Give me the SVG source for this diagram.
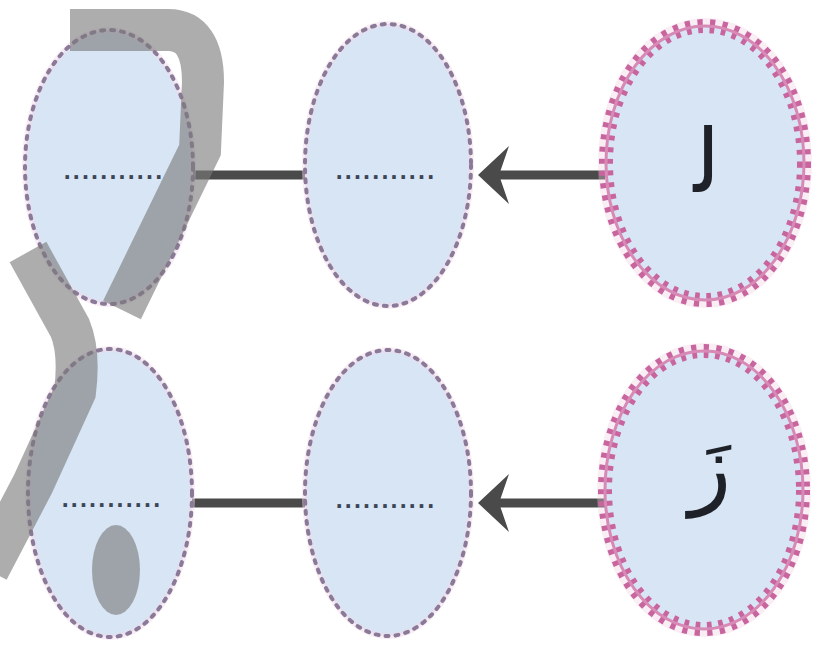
<svg xmlns="http://www.w3.org/2000/svg" width="820" height="649" viewBox="0 0 820 649">
<style>
.fill{fill:#d7e5f5}
.dotb{fill:none;stroke:#8a7a98;stroke-width:4;stroke-dasharray:3 7;stroke-linecap:round}
.halo{fill:none;stroke:#f3dcec;stroke-width:6}
.zig0{fill:none;stroke:#f2cfe2;stroke-width:16}
.zig1{fill:none;stroke:#c9659e;stroke-width:14;stroke-dasharray:5 7}
.zig2{fill:none;stroke:#d88ab6;stroke-width:3}
.ph{font-family:"Liberation Sans",Arial,sans-serif;font-size:25px;font-weight:bold;fill:#3c4656;text-anchor:middle;letter-spacing:2.2px}
.ar{font-family:"DejaVu Sans",sans-serif;font-size:88px;fill:#1e2128;text-anchor:middle}
.conn{stroke:#4a4a4a;stroke-width:9;fill:none}
.qm{fill:none;stroke:#7a7a7a;stroke-opacity:0.62;stroke-width:42}
</style>
<defs>
<marker id="ah" viewBox="-34 -31 36 62" markerWidth="36" markerHeight="62" refX="-12" refY="0" orient="auto" markerUnits="userSpaceOnUse">
<path d="M0,0 L-31,-29 L-21,0 L-31,29 Z" fill="#4a4a4a"/>
</marker>
</defs>
<rect width="820" height="649" fill="#ffffff"/>
<g id="connectors">
<line class="conn" x1="605" y1="175" x2="490" y2="175" marker-end="url(#ah)"/>
<line class="conn" x1="305" y1="175" x2="193" y2="175"/>
<line class="conn" x1="605" y1="503" x2="490" y2="503" marker-end="url(#ah)"/>
<line class="conn" x1="305" y1="503" x2="192" y2="503"/>
</g>
<g id="node-top-left">
<ellipse class="fill" cx="109" cy="167" rx="84" ry="137"/>
<ellipse class="halo" cx="109" cy="167" rx="84" ry="137" opacity="0.5"/>
<ellipse class="dotb" cx="109" cy="167" rx="84" ry="137"/>
<text class="ph" x="114" y="179">...........</text>
</g>
<g id="node-top-middle">
<ellipse class="fill" cx="388" cy="165" rx="83" ry="141"/>
<ellipse class="halo" cx="388" cy="165" rx="83" ry="141" opacity="0.5"/>
<ellipse class="dotb" cx="388" cy="165" rx="83" ry="141"/>
<text class="ph" x="386" y="179">...........</text>
</g>
<g id="node-top-right">
<ellipse class="zig0" cx="705" cy="163" rx="99" ry="137" opacity="0.35"/>
<ellipse class="fill" cx="705" cy="163" rx="99" ry="137"/>
<ellipse class="zig1" cx="705" cy="163" rx="99" ry="137"/>
<ellipse class="zig2" cx="705" cy="163" rx="99" ry="137"/>
<text class="ar" x="707" y="192">&#x644;&#x200D;</text>
</g>
<g id="node-bottom-left">
<ellipse class="fill" cx="110" cy="493" rx="82" ry="144"/>
<ellipse class="halo" cx="110" cy="493" rx="82" ry="144" opacity="0.5"/>
<ellipse class="dotb" cx="110" cy="493" rx="82" ry="144"/>
<text class="ph" x="112" y="507">...........</text>
</g>
<g id="node-bottom-middle">
<ellipse class="fill" cx="388" cy="493" rx="83" ry="143"/>
<ellipse class="halo" cx="388" cy="493" rx="83" ry="143" opacity="0.5"/>
<ellipse class="dotb" cx="388" cy="493" rx="83" ry="143"/>
<text class="ph" x="386" y="508">...........</text>
</g>
<g id="node-bottom-right">
<ellipse class="zig0" cx="704" cy="490" rx="99" ry="139" opacity="0.35"/>
<ellipse class="fill" cx="704" cy="490" rx="99" ry="139"/>
<ellipse class="zig1" cx="704" cy="490" rx="99" ry="139"/>
<ellipse class="zig2" cx="704" cy="490" rx="99" ry="139"/>
<text class="ar" x="710" y="498">زَ</text>
</g>
<g id="question-mark">
<path class="qm" d="M70,30 H168 Q203,30 203,82 L200,150 L122,310"/>
<path class="qm" d="M28,252 L70,328 Q80,352 75,392 L33,484 L-12,570"/>
<ellipse cx="116" cy="570" rx="24" ry="45" fill="#7a7a7a" fill-opacity="0.62"/>
</g>
</svg>
